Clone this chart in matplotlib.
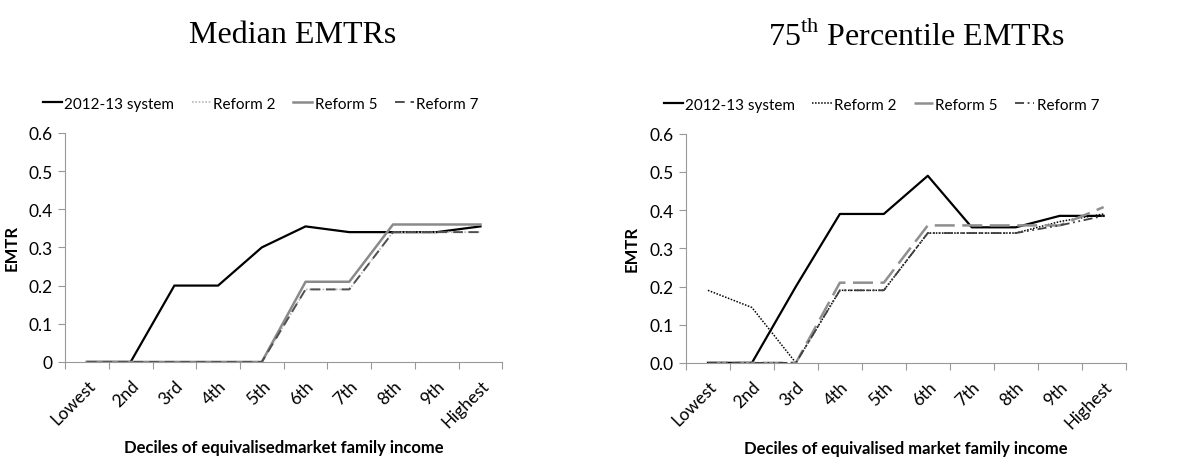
import numpy as np
import matplotlib
matplotlib.use('Agg')
import matplotlib.pyplot as plt

plt.rcParams['font.family'] = ['Lato', 'DejaVu Sans']
plt.rcParams['mathtext.fontset'] = 'custom'
plt.rcParams['mathtext.rm'] = 'Liberation Serif'

deciles = ['Lowest', '2nd', '3rd', '4th', '5th', '6th', '7th', '8th', '9th', 'Highest']
series_names = ['2012-13 system', 'Reform 2', 'Reform 5', 'Reform 7']

# median EMTRs
med_base = [0, 0, 0.20, 0.20, 0.30, 0.355, 0.34, 0.34, 0.34, 0.355]
med_r2 = [0, 0, 0, 0, 0, 0.19, 0.19, 0.34, 0.34, 0.34]
med_r5 = [0, 0, 0, 0, 0, 0.21, 0.21, 0.36, 0.36, 0.36]
med_r7 = [0, 0, 0, 0, 0, 0.19, 0.19, 0.34, 0.34, 0.34]

# 75th percentile EMTRs
p75_base = [0, 0, 0.20, 0.39, 0.39, 0.49, 0.355, 0.355, 0.385, 0.385]
p75_r2 = [0.19, 0.145, 0, 0.19, 0.19, 0.34, 0.34, 0.34, 0.37, 0.39]
p75_r5 = [0, 0, 0, 0.21, 0.21, 0.36, 0.36, 0.36, 0.36, 0.408]
p75_r7 = [0, 0, 0, 0.19, 0.19, 0.34, 0.34, 0.34, 0.36, 0.385]

left_styles = [dict(color='black', lw=1.6, ls='-'),
               dict(color='#b8b8b8', lw=1.2, ls=(0, (1, 1))),
               dict(color='#8a8a8a', lw=1.8, ls='-'),
               dict(color='#505050', lw=1.4, ls=(0, (5, 3)))]
right_styles = [dict(color='black', lw=1.6, ls='-'),
                dict(color='black', lw=1.1, ls=(0, (1, 1))),
                dict(color='#8f8f8f', lw=1.8, ls=(0, (8, 3))),
                dict(color='#404040', lw=1.3, ls=(0, (5, 2, 1, 2, 1, 2)))]


def draw(ax, data, styles, ylabels, xlabel, leg_x):
    x = np.arange(len(deciles)) + 0.5
    for name, vals, st in zip(series_names, data, styles):
        ax.plot(x, vals, label=name, **st)
    ax.set_xlim(0, len(deciles))
    ax.set_ylim(0, 0.6)
    ax.set_yticks(np.arange(0, 0.61, 0.1))
    ax.set_yticklabels(ylabels, fontsize=12.5)
    ax.set_xticks(np.arange(0, len(deciles) + 1))
    ax.set_xticklabels([])
    ax.set_xticks(x, minor=True)
    ax.set_xticklabels(deciles, minor=True, rotation=45, ha='right',
                       rotation_mode='anchor', fontsize=12.5)
    ax.tick_params(axis='x', which='minor', length=0, pad=11)
    ax.tick_params(axis='x', which='major', length=5, color='#999999')
    ax.tick_params(axis='y', length=5, color='#999999', pad=4)
    for s in ['top', 'right']:
        ax.spines[s].set_visible(False)
    for s in ['left', 'bottom']:
        ax.spines[s].set_color('#999999')
    ax.set_ylabel('EMTR', fontweight='bold', fontsize=12)
    ax.set_xlabel(xlabel, fontweight='bold', fontsize=12, labelpad=6)
    ax.legend(loc='lower left', bbox_to_anchor=(leg_x, 1.07), ncol=4,
              frameon=False, fontsize=11, handlelength=1.25,
              handletextpad=0.15, columnspacing=1.15, borderaxespad=0)


fig = plt.figure(figsize=(11.98, 4.6), dpi=100)
ax1 = fig.add_axes([0.0543, 0.211, 0.365, 0.498])
ax2 = fig.add_axes([0.5726, 0.209, 0.367, 0.498])

draw(ax1, [med_base, med_r2, med_r5, med_r7], left_styles,
     ['0', '0.1', '0.2', '0.3', '0.4', '0.5', '0.6'],
     'Deciles of equivalisedmarket family income', -0.065)
draw(ax2, [p75_base, p75_r2, p75_r5, p75_r7], right_styles,
     ['0.0', '0.1', '0.2', '0.3', '0.4', '0.5', '0.6'],
     'Deciles of equivalised market family income', -0.065)
ax1.yaxis.set_label_coords(-0.105, 0.5)
ax2.yaxis.set_label_coords(-0.105, 0.5)

fig.text(0.244, 0.922, 'Median EMTRs', family='Liberation Serif',
         fontsize=23, ha='center', va='center')
fig.text(0.765, 0.922, r'75$^{\mathrm{th}}$ Percentile EMTRs',
         family='Liberation Serif', fontsize=23, ha='center', va='center')

fig.savefig('out.png', dpi=100)
